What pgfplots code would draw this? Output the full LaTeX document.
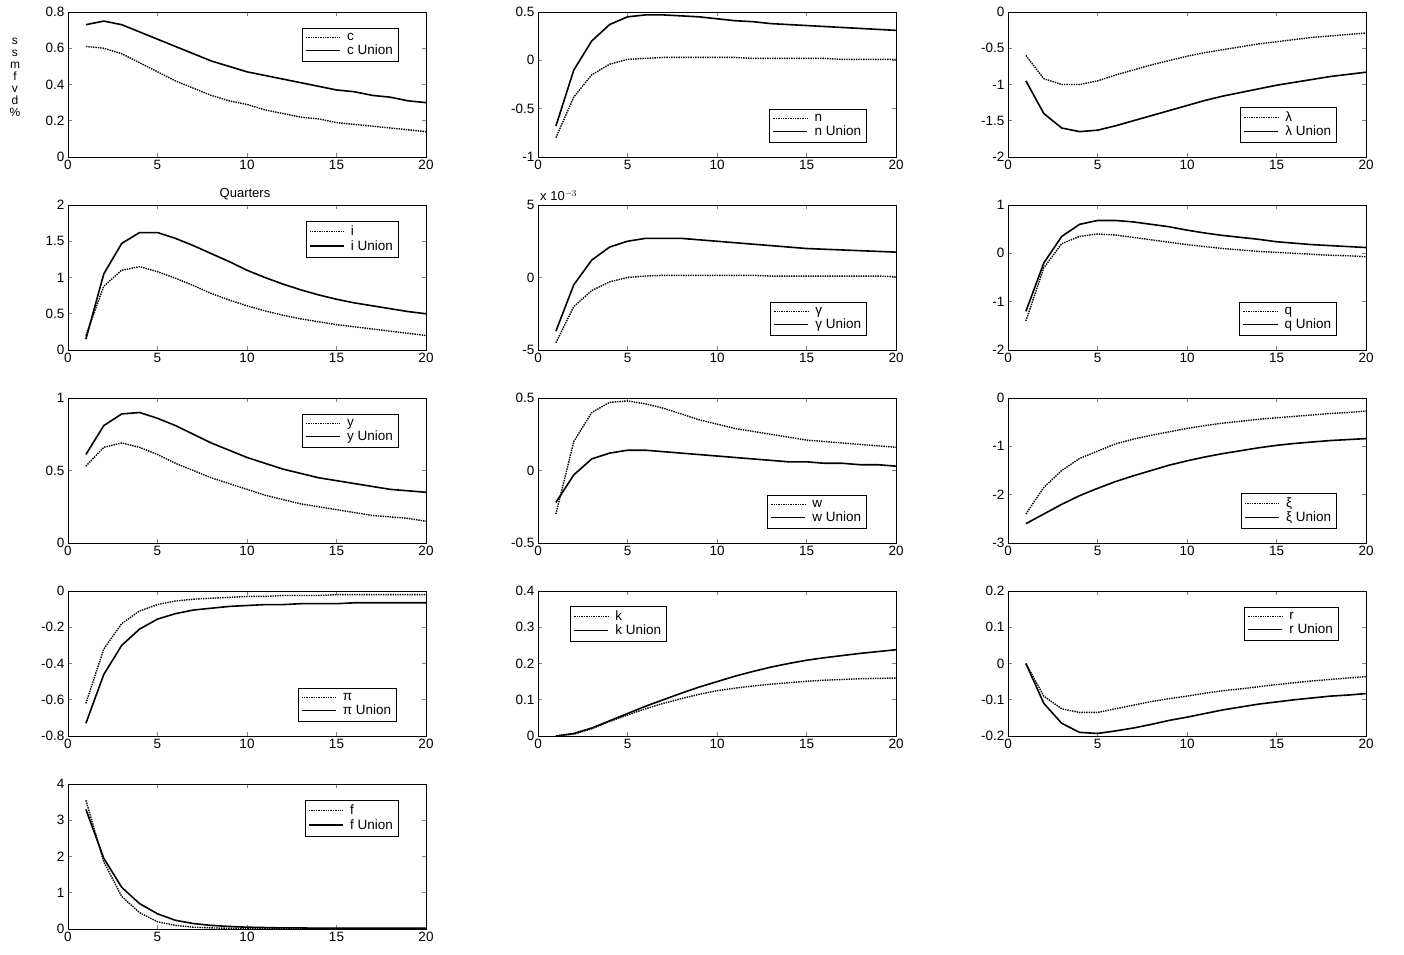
\documentclass[border=0pt]{standalone}
\usepackage{fontspec}
\setmainfont{Liberation Sans}
\usepackage{pgfplots}
\pgfplotsset{compat=1.18}
\usepgfplotslibrary{groupplots}
\pgfplotsset{
  my/.style={scale only axis, width=358pt, height=145pt, xmin=0, xmax=20, xtick={0,5,10,15,20},
    tick align=inside, major tick length=4pt, axis line style={line width=0.6pt}, tick style={line width=0.6pt},
    tick label style={font=\fontsize{13.5}{15}\selectfont},
    /pgf/number format/assume math mode=true,
    legend style={font=\fontsize{13.5}{15}\selectfont, draw=black, fill=white, inner sep=3pt, row sep=-1pt},
    legend cell align=left,
    legend image code/.code={\draw[#1] (0cm,0cm) -- (1.2cm,0cm); \path (1.35cm,0cm);}},
  ne/.style={legend style={at={(axis description cs:0.922,0.89)}, anchor=north east}},
  se/.style={legend style={at={(axis description cs:0.917,0.10)}, anchor=south east}},
  nw/.style={legend style={at={(axis description cs:0.09,0.9)}, anchor=north west}},
  dot/.style={black, densely dotted, line width=1.4pt, mark=none},
  sol/.style={black, solid, line width=1.6pt, mark=none},
}
\begin{document}
\begin{tikzpicture}
\begin{groupplot}[group style={group size=3 by 5, horizontal sep=112pt, vertical sep=48pt}, my]
\nextgroupplot[ne, ymin=0, ymax=0.8, ytick={0,0.2,0.4,0.6,0.8}]
\addplot[dot] coordinates {(1,0.61)(2,0.60)(3,0.57)(4,0.52)(5,0.47)(6,0.42)(7,0.38)(8,0.34)(9,0.31)(10,0.29)(11,0.26)(12,0.24)(13,0.22)(14,0.21)(15,0.19)(16,0.18)(17,0.17)(18,0.16)(19,0.15)(20,0.14)};
\addplot[sol] coordinates {(1,0.73)(2,0.75)(3,0.73)(4,0.69)(5,0.65)(6,0.61)(7,0.57)(8,0.53)(9,0.50)(10,0.47)(11,0.45)(12,0.43)(13,0.41)(14,0.39)(15,0.37)(16,0.36)(17,0.34)(18,0.33)(19,0.31)(20,0.30)};
\legend{c,c Union}
\nextgroupplot[se, ymin=-1, ymax=0.5, ytick={-1,-0.5,0,0.5}]
\addplot[dot] coordinates {(1,-0.8)(2,-0.38)(3,-0.15)(4,-0.04)(5,0.01)(6,0.02)(7,0.03)(8,0.03)(9,0.03)(10,0.03)(11,0.03)(12,0.02)(13,0.02)(14,0.02)(15,0.02)(16,0.02)(17,0.01)(18,0.01)(19,0.01)(20,0.01)};
\addplot[sol] coordinates {(1,-0.68)(2,-0.1)(3,0.2)(4,0.37)(5,0.45)(6,0.47)(7,0.47)(8,0.46)(9,0.45)(10,0.43)(11,0.41)(12,0.40)(13,0.38)(14,0.37)(15,0.36)(16,0.35)(17,0.34)(18,0.33)(19,0.32)(20,0.31)};
\legend{n,n Union}
\nextgroupplot[se, ymin=-2, ymax=0, ytick={-2,-1.5,-1,-0.5,0}]
\addplot[dot] coordinates {(1,-0.6)(2,-0.92)(3,-1.0)(4,-1.0)(5,-0.95)(6,-0.87)(7,-0.8)(8,-0.73)(9,-0.67)(10,-0.61)(11,-0.56)(12,-0.52)(13,-0.48)(14,-0.44)(15,-0.41)(16,-0.38)(17,-0.35)(18,-0.33)(19,-0.31)(20,-0.29)};
\addplot[sol] coordinates {(1,-0.95)(2,-1.4)(3,-1.6)(4,-1.65)(5,-1.63)(6,-1.57)(7,-1.5)(8,-1.43)(9,-1.36)(10,-1.29)(11,-1.22)(12,-1.16)(13,-1.11)(14,-1.06)(15,-1.01)(16,-0.97)(17,-0.93)(18,-0.89)(19,-0.86)(20,-0.83)};
\legend{λ,λ Union}
\nextgroupplot[ne, ymin=0, ymax=2, ytick={0,0.5,1,1.5,2}]
\addplot[dot] coordinates {(1,0.2)(2,0.88)(3,1.1)(4,1.15)(5,1.08)(6,0.99)(7,0.89)(8,0.78)(9,0.69)(10,0.61)(11,0.54)(12,0.48)(13,0.43)(14,0.39)(15,0.35)(16,0.32)(17,0.29)(18,0.26)(19,0.23)(20,0.20)};
\addplot[sol] coordinates {(1,0.15)(2,1.05)(3,1.47)(4,1.62)(5,1.62)(6,1.54)(7,1.44)(8,1.33)(9,1.22)(10,1.1)(11,1.0)(12,0.91)(13,0.83)(14,0.76)(15,0.70)(16,0.65)(17,0.61)(18,0.57)(19,0.53)(20,0.50)};
\legend{i,i Union}
\nextgroupplot[se, ymin=-5, ymax=5, ytick={-5,0,5}]
\addplot[dot] coordinates {(1,-4.5)(2,-2.0)(3,-0.9)(4,-0.3)(5,0.0)(6,0.1)(7,0.15)(8,0.15)(9,0.15)(10,0.15)(11,0.15)(12,0.15)(13,0.1)(14,0.1)(15,0.1)(16,0.1)(17,0.1)(18,0.1)(19,0.1)(20,0.05)};
\addplot[sol] coordinates {(1,-3.7)(2,-0.5)(3,1.2)(4,2.1)(5,2.5)(6,2.7)(7,2.7)(8,2.7)(9,2.6)(10,2.5)(11,2.4)(12,2.3)(13,2.2)(14,2.1)(15,2.0)(16,1.95)(17,1.9)(18,1.85)(19,1.8)(20,1.75)};
\legend{γ,γ Union}
\nextgroupplot[se, ymin=-2, ymax=1, ytick={-2,-1,0,1}]
\addplot[dot] coordinates {(1,-1.4)(2,-0.3)(3,0.2)(4,0.35)(5,0.4)(6,0.38)(7,0.33)(8,0.28)(9,0.23)(10,0.18)(11,0.14)(12,0.1)(13,0.07)(14,0.04)(15,0.02)(16,0.0)(17,-0.02)(18,-0.04)(19,-0.05)(20,-0.07)};
\addplot[sol] coordinates {(1,-1.2)(2,-0.2)(3,0.35)(4,0.6)(5,0.68)(6,0.68)(7,0.65)(8,0.6)(9,0.55)(10,0.48)(11,0.42)(12,0.37)(13,0.33)(14,0.29)(15,0.24)(16,0.21)(17,0.18)(18,0.16)(19,0.14)(20,0.12)};
\legend{q,q Union}
\nextgroupplot[ne, ymin=0, ymax=1, ytick={0,0.5,1}]
\addplot[dot] coordinates {(1,0.53)(2,0.66)(3,0.69)(4,0.66)(5,0.61)(6,0.55)(7,0.50)(8,0.45)(9,0.41)(10,0.37)(11,0.33)(12,0.30)(13,0.27)(14,0.25)(15,0.23)(16,0.21)(17,0.19)(18,0.18)(19,0.17)(20,0.15)};
\addplot[sol] coordinates {(1,0.61)(2,0.81)(3,0.89)(4,0.9)(5,0.86)(6,0.81)(7,0.75)(8,0.69)(9,0.64)(10,0.59)(11,0.55)(12,0.51)(13,0.48)(14,0.45)(15,0.43)(16,0.41)(17,0.39)(18,0.37)(19,0.36)(20,0.35)};
\legend{y,y Union}
\nextgroupplot[se, ymin=-0.5, ymax=0.5, ytick={-0.5,0,0.5}]
\addplot[dot] coordinates {(1,-0.3)(2,0.2)(3,0.4)(4,0.47)(5,0.48)(6,0.46)(7,0.43)(8,0.39)(9,0.35)(10,0.32)(11,0.29)(12,0.27)(13,0.25)(14,0.23)(15,0.21)(16,0.2)(17,0.19)(18,0.18)(19,0.17)(20,0.16)};
\addplot[sol] coordinates {(1,-0.22)(2,-0.03)(3,0.08)(4,0.12)(5,0.14)(6,0.14)(7,0.13)(8,0.12)(9,0.11)(10,0.1)(11,0.09)(12,0.08)(13,0.07)(14,0.06)(15,0.06)(16,0.05)(17,0.05)(18,0.04)(19,0.04)(20,0.03)};
\legend{w,w Union}
\nextgroupplot[se, ymin=-3, ymax=0, ytick={-3,-2,-1,0}]
\addplot[dot] coordinates {(1,-2.4)(2,-1.85)(3,-1.5)(4,-1.25)(5,-1.1)(6,-0.95)(7,-0.85)(8,-0.77)(9,-0.7)(10,-0.63)(11,-0.57)(12,-0.52)(13,-0.48)(14,-0.44)(15,-0.41)(16,-0.38)(17,-0.35)(18,-0.32)(19,-0.3)(20,-0.27)};
\addplot[sol] coordinates {(1,-2.6)(2,-2.4)(3,-2.2)(4,-2.02)(5,-1.87)(6,-1.73)(7,-1.61)(8,-1.5)(9,-1.39)(10,-1.3)(11,-1.22)(12,-1.15)(13,-1.09)(14,-1.03)(15,-0.98)(16,-0.94)(17,-0.91)(18,-0.88)(19,-0.86)(20,-0.84)};
\legend{ξ,ξ Union}
\nextgroupplot[se, ymin=-0.8, ymax=0, ytick={-0.8,-0.6,-0.4,-0.2,0}]
\addplot[dot] coordinates {(1,-0.62)(2,-0.32)(3,-0.18)(4,-0.11)(5,-0.075)(6,-0.055)(7,-0.045)(8,-0.04)(9,-0.035)(10,-0.03)(11,-0.03)(12,-0.025)(13,-0.025)(14,-0.025)(15,-0.02)(16,-0.02)(17,-0.02)(18,-0.02)(19,-0.02)(20,-0.02)};
\addplot[sol] coordinates {(1,-0.73)(2,-0.46)(3,-0.3)(4,-0.21)(5,-0.155)(6,-0.125)(7,-0.105)(8,-0.095)(9,-0.085)(10,-0.08)(11,-0.075)(12,-0.075)(13,-0.07)(14,-0.07)(15,-0.07)(16,-0.065)(17,-0.065)(18,-0.065)(19,-0.065)(20,-0.065)};
\legend{π,π Union}
\nextgroupplot[nw, ymin=0, ymax=0.4, ytick={0,0.1,0.2,0.3,0.4}]
\addplot[dot] coordinates {(1,0)(2,0.005)(3,0.02)(4,0.04)(5,0.058)(6,0.075)(7,0.09)(8,0.103)(9,0.115)(10,0.125)(11,0.132)(12,0.138)(13,0.143)(14,0.147)(15,0.151)(16,0.154)(17,0.156)(18,0.158)(19,0.159)(20,0.16)};
\addplot[sol] coordinates {(1,0)(2,0.007)(3,0.022)(4,0.042)(5,0.062)(6,0.082)(7,0.1)(8,0.118)(9,0.135)(10,0.15)(11,0.165)(12,0.178)(13,0.19)(14,0.2)(15,0.209)(16,0.216)(17,0.222)(18,0.228)(19,0.233)(20,0.238)};
\legend{k,k Union}
\nextgroupplot[ne, ymin=-0.2, ymax=0.2, ytick={-0.2,-0.1,0,0.1,0.2}]
\addplot[dot] coordinates {(1,0)(2,-0.09)(3,-0.125)(4,-0.135)(5,-0.135)(6,-0.125)(7,-0.115)(8,-0.105)(9,-0.097)(10,-0.09)(11,-0.082)(12,-0.075)(13,-0.07)(14,-0.064)(15,-0.058)(16,-0.053)(17,-0.048)(18,-0.044)(19,-0.04)(20,-0.036)};
\addplot[sol] coordinates {(1,0)(2,-0.11)(3,-0.165)(4,-0.19)(5,-0.193)(6,-0.186)(7,-0.178)(8,-0.168)(9,-0.157)(10,-0.148)(11,-0.138)(12,-0.128)(13,-0.12)(14,-0.112)(15,-0.106)(16,-0.1)(17,-0.095)(18,-0.09)(19,-0.087)(20,-0.083)};
\legend{r,r Union}
\nextgroupplot[ne, ymin=0, ymax=4, ytick={0,1,2,3,4}]
\addplot[dot] coordinates {(1,3.55)(2,1.85)(3,0.9)(4,0.45)(5,0.2)(6,0.1)(7,0.05)(8,0.03)(9,0.02)(10,0.01)(11,0.01)(12,0.01)(13,0.01)(14,0.01)(15,0.01)(16,0.01)(17,0.01)(18,0.01)(19,0.01)(20,0.01)};
\addplot[sol] coordinates {(1,3.3)(2,1.95)(3,1.15)(4,0.7)(5,0.42)(6,0.24)(7,0.15)(8,0.1)(9,0.07)(10,0.05)(11,0.04)(12,0.03)(13,0.03)(14,0.02)(15,0.02)(16,0.02)(17,0.02)(18,0.02)(19,0.02)(20,0.02)};
\legend{f,f Union}
\end{groupplot}
\path (group c1r1.south west) ++(-68pt,157pt) rectangle ++(1404pt,-954pt);
\node[font=\fontsize{13}{15}\selectfont, anchor=north] at ([xshift=177pt,yshift=-28pt]group c1r1.south west) {Quarters};
\node[font=\fontsize{13}{15}\selectfont, anchor=south west, inner sep=0pt] at ([xshift=2pt,yshift=4pt]group c2r2.north west) {x 10$^{-3}$};
\node[font=\fontsize{12}{12}\selectfont, align=center, anchor=north, inner sep=0pt] at ([xshift=-53pt,yshift=-26pt]group c1r1.north west) {s\\s\\m\\f\\v\\d\\\%};
\end{tikzpicture}
\end{document}
